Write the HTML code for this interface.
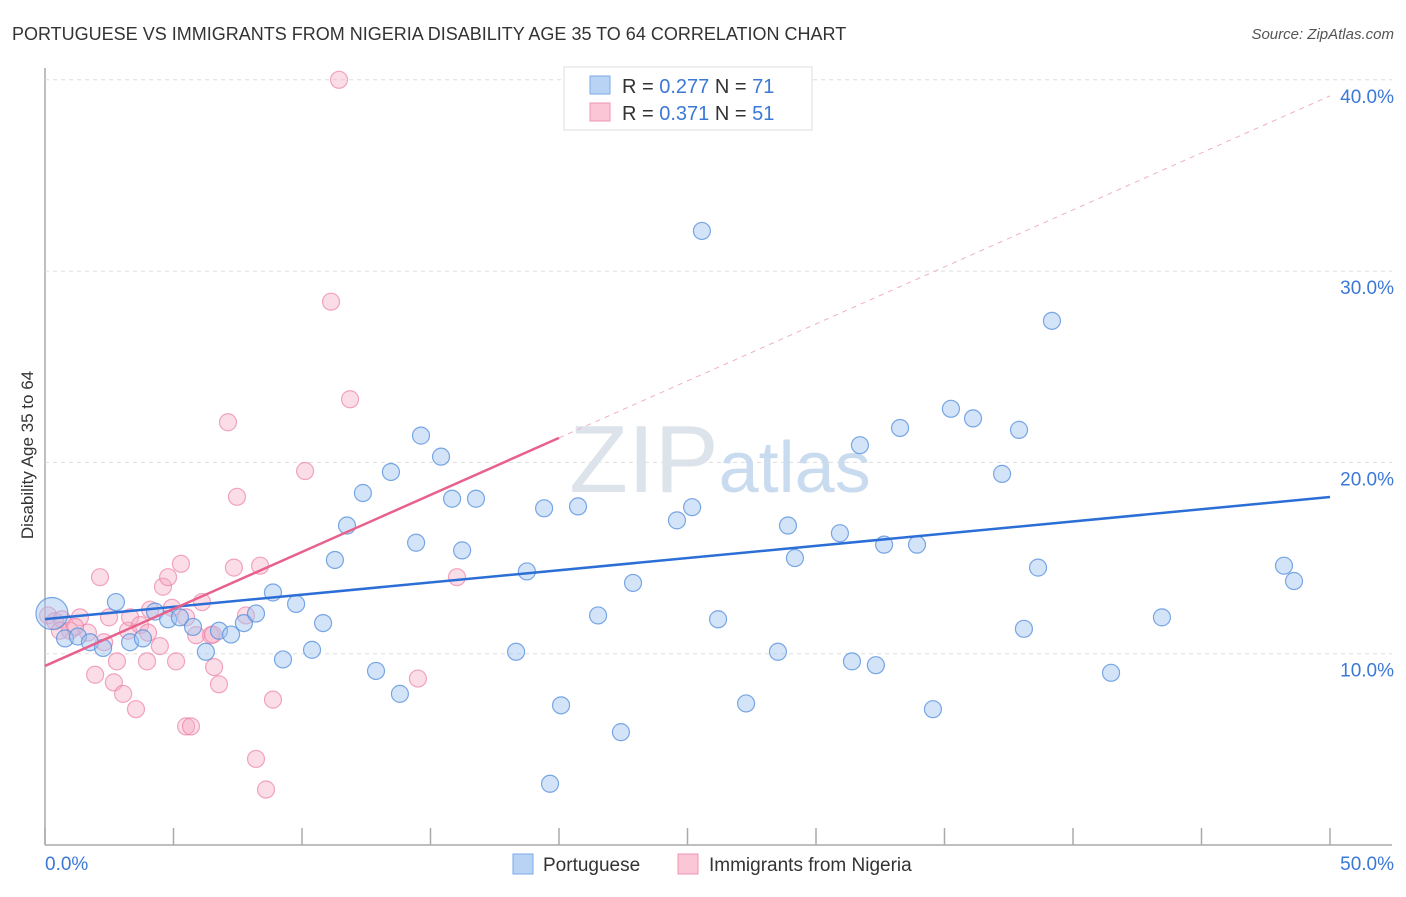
<!DOCTYPE html>
<html><head><meta charset="utf-8"><style>
body{margin:0;background:#fff;font-family:"Liberation Sans",sans-serif;}
svg text{font-family:"Liberation Sans",sans-serif;}
</style></head><body>
<svg id="chart" width="1406" height="892" viewBox="0 0 1406 892" xmlns="http://www.w3.org/2000/svg">
<text x="12" y="40" font-size="18" fill="#333">PORTUGUESE VS IMMIGRANTS FROM NIGERIA DISABILITY AGE 35 TO 64 CORRELATION CHART</text>
<text x="1394" y="39" font-size="15" fill="#555" text-anchor="end" font-style="italic">Source: ZipAtlas.com</text>
<g id="grid"></g>
<text x="720" y="492" font-size="96" fill="#dde3ea" text-anchor="middle" font-family="Liberation Serif">ZIP<tspan fill="#c9dbef" font-family="Liberation Sans" font-size="72">atlas</tspan></text>
<g id="pts"></g>
<g id="lines"></g>
<text transform="translate(33,455) rotate(-90)" font-size="17" fill="#333" text-anchor="middle">Disability Age 35 to 64</text>
<g>
<rect x="564" y="67" width="248" height="63" fill="#fff" stroke="#ddd"/>
<rect x="590" y="76" width="20" height="18" fill="#b9d3f5" stroke="#7aaae8"/>
<rect x="590" y="103" width="20" height="18" fill="#fbc6d6" stroke="#f093b0"/>
<text x="622" y="93" font-size="20" fill="#333">R = <tspan fill="#3b78d8">0.277</tspan>    N = <tspan fill="#3b78d8">71</tspan></text>
<text x="622" y="120" font-size="20" fill="#333">R = <tspan fill="#3b78d8"> 0.371</tspan>    N = <tspan fill="#3b78d8">51</tspan></text>
</g>
<g>
<rect x="513" y="854" width="20" height="20" fill="#b9d3f5" stroke="#7aaae8"/>
<text x="543" y="871" font-size="19" fill="#333">Portuguese</text>
<rect x="678" y="854" width="20" height="20" fill="#fbc6d6" stroke="#f093b0"/>
<text x="709" y="871" font-size="19" fill="#333">Immigrants from Nigeria</text>
</g>
</svg>
<script>
const xTickLabels=["0.0%","50.0%"];
const yTicks=[10,20,30,40];
const blueX=[0.27,0.78,1.28,1.75,2.26,2.76,3.31,3.81,4.28,4.79,5.25,5.76,6.26,6.77,7.24,7.74,8.21,8.87,9.26,9.77,10.39,10.82,11.28,11.75,12.37,12.88,13.46,13.81,14.44,14.63,15.41,15.84,16.23,16.77,18.33,18.75,19.42,20.08,20.74,21.52,22.41,22.88,24.59,25.18,25.56,26.19,27.28,28.52,28.91,29.18,30.93,31.40,31.71,32.33,32.65,33.27,33.93,34.55,35.25,36.11,37.24,37.90,38.09,38.64,39.18,41.48,43.46,48.21,48.60,19.65];
const blueY=[12.1,10.8,10.9,10.6,10.3,12.7,10.6,10.8,12.2,11.8,11.9,11.4,10.1,11.2,11.0,11.6,12.1,13.2,9.7,12.6,10.2,11.6,14.9,16.7,18.4,9.1,19.5,7.9,15.8,21.4,20.3,18.1,15.4,18.1,10.1,14.3,17.6,7.3,17.7,12.0,5.9,13.7,16.97,17.66,32.1,11.8,7.4,10.1,16.7,15.0,16.3,9.6,20.9,9.4,15.7,21.8,15.7,7.1,22.8,22.3,19.4,21.7,11.3,14.5,27.4,9.0,11.9,14.6,13.8,3.2];
const pinkX=[0.12,0.39,0.66,0.97,1.36,1.67,1.95,2.14,2.30,2.49,2.68,2.80,3.04,3.23,3.31,3.54,3.70,4.01,3.97,4.47,4.59,4.79,4.94,5.10,5.29,5.49,5.68,5.88,6.11,6.46,6.58,6.77,7.12,7.35,7.47,7.82,8.37,8.87,8.21,8.60,10.12,11.13,11.87,14.51,16.03,11.44,6.54,5.49,0.58,1.17,4.09];
const pinkY=[12.0,11.7,11.8,11.2,11.9,11.1,8.9,14.0,10.6,11.9,8.5,9.6,7.9,11.2,11.9,7.1,11.5,11.1,9.6,10.4,13.5,14.0,12.4,9.6,14.7,6.2,6.2,10.97,12.7,10.97,9.3,8.4,22.1,14.5,18.2,12.0,14.6,7.6,4.5,2.9,19.55,28.4,23.3,8.7,14.0,40.0,11.0,11.9,11.2,11.4,12.3];
const blueLine=[11.81,18.19];
const pinkLine=[9.36,0.596];
const X=v=>45+v*25.7, Y=v=>845-v*19.13;
const NS="http://www.w3.org/2000/svg";
function mk(tag,attrs,parent){const e=document.createElementNS(NS,tag);for(const k in attrs)e.setAttribute(k,attrs[k]);document.getElementById(parent).appendChild(e);return e;}
// axes and grid
const ax=mk('line',{x1:45,y1:68,x2:45,y2:845,stroke:'#aaa','stroke-width':1.5},'grid');


const bx=mk('line',{x1:45,y1:845,x2:1392,y2:845,stroke:'#aaa','stroke-width':1.5},'grid');


for(let i=0;i<=10;i++){const t=mk('line',{x1:X(i*5),x2:X(i*5),y1:828,y2:845,stroke:'#aaa','stroke-width':1.5},'grid');

}
yTicks.forEach(v=>{const g=mk('line',{x1:45,x2:1392,y1:Y(v),y2:Y(v),stroke:'#ddd','stroke-dasharray':'4,4'},'grid');


const t=mk('text',{x:1394,y:Y(v)+23,'font-size':19,fill:'#3b78d8','text-anchor':'end'},'grid');t.textContent=v.toFixed(1)+'%';

});
const xl0=mk('text',{x:45,y:870,'font-size':19,fill:'#3b78d8'},'grid');xl0.textContent=xTickLabels[0];


const xl1=mk('text',{x:1394,y:870,'font-size':19,fill:'#3b78d8','text-anchor':'end'},'grid');xl1.textContent=xTickLabels[1];


pinkX.forEach((x,i)=>{const c=mk('circle',{cx:X(x),cy:Y(pinkY[i]),r:8.5,fill:'rgba(246,170,195,0.4)',stroke:'rgba(236,130,165,0.7)','stroke-width':1.2},'pts');

});
blueX.forEach((x,i)=>{const c=mk('circle',{cx:X(x),cy:Y(blueY[i]),r:i===0?16:8.5,fill:'rgba(160,196,240,0.45)',stroke:'rgba(80,140,220,0.75)','stroke-width':1.2},'pts');

});
const bl=mk('line',{x1:X(0),y1:Y(blueLine[0]),x2:X(50),y2:Y(blueLine[1]),stroke:'#2b6fd6','stroke-width':2.5},'lines');


const pe=20;
const pl=mk('line',{x1:X(0),y1:Y(pinkLine[0]),x2:X(pe),y2:Y(pinkLine[0]+pinkLine[1]*pe),stroke:'#e8608c','stroke-width':2.5},'lines');


const pd=mk('line',{x1:X(pe),y1:Y(pinkLine[0]+pinkLine[1]*pe),x2:X(50),y2:Y(pinkLine[0]+pinkLine[1]*50),stroke:'#eeb0c4','stroke-width':1,'stroke-dasharray':'5,5'},'lines');


</script>
</body></html>
